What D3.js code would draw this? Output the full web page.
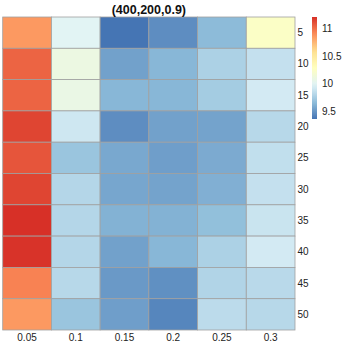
<!DOCTYPE html>
<html>
<head>
<meta charset="utf-8">
<script src="https://cdn.jsdelivr.net/npm/d3@7"></script>
<style>
  body { margin: 0; background: #fff; }
  svg { font-family: "Liberation Sans", Arial, sans-serif; }
</style>
</head>
<body>
<svg id="drawing_region"></svg>
<script>
// columns and rows of the heatmap
const cols = ["0.05", "0.1", "0.15", "0.2", "0.25", "0.3"];
const rows = ["5", "10", "15", "20", "25", "30", "35", "40", "45", "50"];

// values per row (one entry per column)
const row5  = [10.85, 10.00, 9.37, 9.47, 9.66, 10.25];
const row10 = [11.03, 10.10, 9.55, 9.64, 9.78, 9.87];
const row15 = [11.03, 10.08, 9.64, 9.64, 9.75, 9.93];
const row20 = [11.13, 9.91, 9.47, 9.55, 9.56, 9.82];
const row25 = [11.08, 9.71, 9.58, 9.54, 9.59, 9.86];
const row30 = [11.13, 9.81, 9.57, 9.56, 9.61, 9.87];
const row35 = [11.20, 9.81, 9.62, 9.62, 9.68, 9.89];
const row40 = [11.19, 9.81, 9.55, 9.64, 9.78, 9.93];
const row45 = [10.93, 9.82, 9.52, 9.48, 9.80, 9.83];
const row50 = [10.85, 9.71, 9.54, 9.44, 9.84, 9.82];
const values = [row5, row10, row15, row20, row25, row30, row35, row40, row45, row50];

const legendTicks = [9.5, 10, 10.5, 11];
const title = "(400,200,0.9)";

const config = { width: 345, height: 345 };
const palette = ["#4575B4", "#91BFDB", "#E0F3F8", "#FFFFBF", "#FEE090", "#FC8D59", "#D73027"];

const cells = [];
values.forEach((r, i) => r.forEach((v, j) => cells.push({ row: rows[i], col: cols[j], value: v })));

const vmin = d3.min(cells, d => d.value);
const vmax = d3.max(cells, d => d.value);
const color = d3.scaleLinear()
    .domain(palette.map((c, i) => vmin + (vmax - vmin) * i / (palette.length - 1)))
    .range(palette)
    .interpolate(d3.interpolateRgb);

const svg = d3.select('#drawing_region')
    .attr('width', config.width)
    .attr('height', config.height);

const x = d3.scaleBand().domain(cols).range([2.7, 295]);
const y = d3.scaleBand().domain(rows).range([17, 330]);

svg.append('g').selectAll('rect')
    .data(cells)
    .enter()
    .append('rect')
    .attr('x', d => x(d.col))
    .attr('y', d => y(d.row))
    .attr('width', x.bandwidth())
    .attr('height', y.bandwidth())
    .attr('fill', d => color(d.value))
    .attr('stroke', '#a0a0a0')
    .attr('stroke-width', 0.8);

// title
svg.append('text')
    .attr('x', (x.range()[0] + x.range()[1]) / 2)
    .attr('y', 14)
    .attr('text-anchor', 'middle')
    .attr('font-weight', 'bold')
    .attr('font-size', '12.5px')
    .attr('fill', '#111')
    .text(title);

// row labels
svg.append('g').selectAll('text')
    .data(rows)
    .enter()
    .append('text')
    .attr('x', 297.5)
    .attr('y', d => y(d) + y.bandwidth() / 2)
    .attr('dy', '0.35em')
    .attr('font-size', '10px')
    .attr('fill', '#222')
    .text(d => d);

// column labels
svg.append('g').selectAll('text')
    .data(cols)
    .enter()
    .append('text')
    .attr('x', d => x(d) + x.bandwidth() / 2)
    .attr('y', 341)
    .attr('text-anchor', 'middle')
    .attr('font-size', '10px')
    .attr('fill', '#222')
    .text(d => d);

// colour legend
const ly = d3.scaleLinear().domain([vmin, vmax]).range([119, 17]);
const grad = svg.append('defs').append('linearGradient')
    .attr('id', 'lg').attr('x1', 0).attr('x2', 0).attr('y1', 1).attr('y2', 0);
d3.range(0, 1.0001, 0.05).forEach(t => {
    grad.append('stop').attr('offset', t).attr('stop-color', color(vmin + t * (vmax - vmin)));
});
svg.append('rect')
    .attr('x', 312)
    .attr('y', ly(vmax))
    .attr('width', 5)
    .attr('height', ly(vmin) - ly(vmax))
    .attr('fill', 'url(#lg)');

svg.append('g').selectAll('text')
    .data(legendTicks)
    .enter()
    .append('text')
    .attr('x', 322)
    .attr('y', d => ly(d))
    .attr('dy', '0.35em')
    .attr('font-size', '10px')
    .attr('fill', '#222')
    .text(d => d);
</script>
</body>
</html>
